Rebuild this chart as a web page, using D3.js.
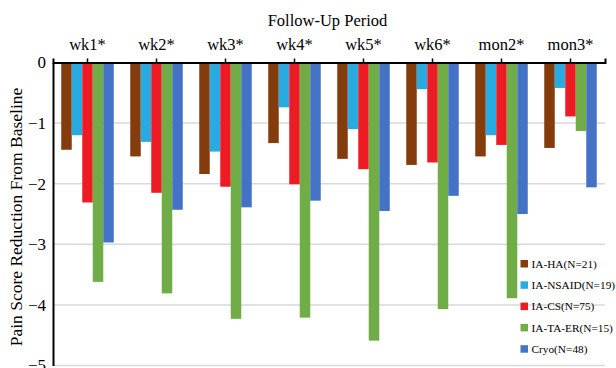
<!DOCTYPE html>
<html><head><meta charset="utf-8">
<script src="https://cdn.jsdelivr.net/npm/d3@7"></script>
<style>body{margin:0;background:#fff}svg{display:block}</style>
</head><body><svg id="c" width="616" height="368"></svg>
<script>
const categories = ["wk1*","wk2*","wk3*","wk4*","wk5*","wk6*","mon2*","mon3*"];
const seriesNames = ["IA-HA(N=21)","IA-NSAID(N=19)","IA-CS(N=75)","IA-TA-ER(N=15)","Cryo(N=48)"];
const iaHA    = [-1.44,-1.55,-1.84,-1.33,-1.59,-1.69,-1.55,-1.41];
const iaNSAID = [-1.20,-1.31,-1.47,-0.74,-1.10,-0.44,-1.20,-0.42];
const iaCS    = [-2.31,-2.15,-2.05,-2.01,-1.76,-1.65,-1.36,-0.89];
const iaTAER  = [-3.62,-3.81,-4.23,-4.21,-4.59,-4.07,-3.89,-1.13];
const cryo    = [-2.97,-2.43,-2.39,-2.28,-2.45,-2.20,-2.50,-2.06];
const yTicks = [0,-1,-2,-3,-4,-5];
const colors = ["#843c0c","#29abe2","#ed1c24","#70ad47","#4472c4"];
const series = [iaHA,iaNSAID,iaCS,iaTAER,cryo];

const svg = d3.select("#c");
const FONT = '"Liberation Serif"';
const mLeft = 53, mRight = 605, mTop = 62.5, mBottom = 365.5;

const x = d3.scaleBand().domain(categories).range([mLeft,mRight]).paddingInner(0.239).paddingOuter(0.1195);
const xs = d3.scaleBand().domain(d3.range(series.length)).range([0,x.bandwidth()]);
const y = d3.scaleLinear().domain([0,-5]).range([mTop,mBottom]);

// gridlines
svg.append("g").selectAll("line").data(yTicks.filter(d=>d!==0)).join("line")
  .attr("x1",mLeft).attr("x2",mRight).attr("y1",d=>y(d)).attr("y2",d=>y(d))
  .attr("stroke","#d9d9d9").attr("stroke-width",1.5);

// bars
categories.forEach((c,i)=>{
  series.forEach((s,j)=>{
    svg.append("rect")
      .attr("x",x(c)+xs(j)).attr("width",xs.bandwidth())
      .attr("y",y(0)).attr("height",y(s[i])-y(0))
      .attr("fill",colors[j]);
  });
});

// y axis
const yAxis = svg.append("g").attr("transform",`translate(${mLeft},0)`)
  .call(d3.axisLeft(y).tickValues(yTicks).tickSize(0).tickPadding(7).tickFormat(d3.format("d")));
yAxis.select(".domain").attr("stroke","#000").attr("stroke-width",2);
yAxis.selectAll("text").style("font-family",FONT).attr("font-size",17).attr("fill","#000");

// x axis at top (zero line)
const xAxis = svg.append("g").attr("transform",`translate(0,${y(0)})`)
  .call(d3.axisTop(x).tickSize(4).tickSizeOuter(4).tickPadding(8.5));
xAxis.select(".domain").attr("stroke","#000").attr("stroke-width",2);
xAxis.selectAll(".tick line").attr("stroke","#000").attr("stroke-width",1.5);
xAxis.selectAll("text").style("font-family",FONT).attr("font-size",16.5).attr("fill","#000");

// titles
svg.append("text").attr("x",327.5).attr("y",26).attr("text-anchor","middle")
  .style("font-family",FONT).attr("font-size",16.5).text("Follow-Up Period");
svg.append("text").attr("transform","translate(22,217) rotate(-90)").attr("text-anchor","middle")
  .style("font-family",FONT).attr("font-size",17.5).text("Pain Score Reduction From Baseline");

// legend
const lg = svg.append("g").attr("transform","translate(520.5,263.5)");
seriesNames.forEach((n,j)=>{
  const g = lg.append("g").attr("transform",`translate(0,${j*21.3})`);
  g.append("rect").attr("x",0).attr("y",-3.5).attr("width",7.5).attr("height",7.5).attr("fill",colors[j]);
  g.append("text").attr("x",11).attr("y",4.2).style("font-family",FONT).attr("font-size",11.3).text(n);
});
</script></body></html>
